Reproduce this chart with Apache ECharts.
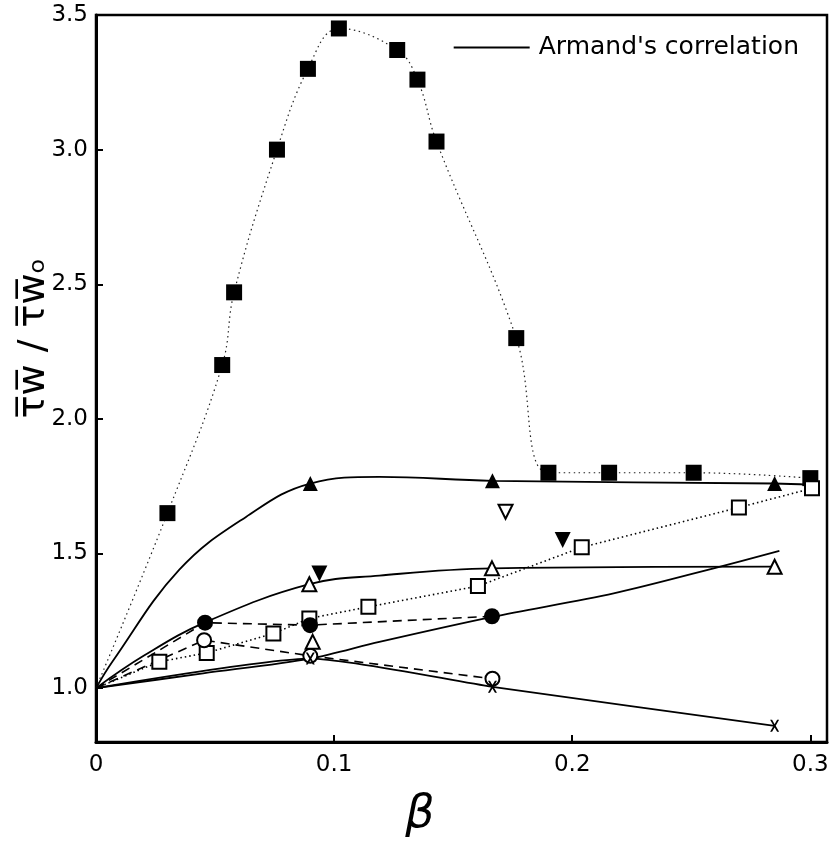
<!DOCTYPE html>
<html>
<head>
<meta charset="utf-8">
<script src="https://cdn.jsdelivr.net/npm/echarts@6/dist/echarts.min.js"></script>
<style>
  html, body { margin: 0; padding: 0; background: #fff; }
  #chart { width: 832px; height: 844px; }
</style>
</head>
<body>
<div id="chart"></div>
<script>
// Wall shear stress ratio against void fraction β for each data set.

// filled squares, dotted curve
const betaFilledSq = [0, 0.030, 0.053, 0.058, 0.076, 0.089, 0.102, 0.1265, 0.135, 0.143, 0.1765, 0.190, 0.2155, 0.251, 0.300];
const tauFilledSq  = [1.00, 1.65, 2.20, 2.47, 3.00, 3.30, 3.45, 3.37, 3.26, 3.03, 2.30, 1.80, 1.80, 1.80, 1.78];

// filled triangles: markers and the curve drawn through them
const betaFilledTri = [0.090, 0.1665, 0.285];
const tauFilledTri  = [1.76, 1.77, 1.76];
const betaFilledTriCurve = [0, 0.007, 0.035, 0.063, 0.090, 0.119, 0.1665, 0.285, 0.300];
const tauFilledTriCurve  = [1.00, 1.10, 1.44, 1.636, 1.76, 1.785, 1.77, 1.76, 1.755];

// open triangles: markers and curve
const betaOpenTri = [0.0896, 0.1663, 0.285];
const tauOpenTri  = [1.386, 1.445, 1.451];
const betaOpenTriCurve = [0, 0.020, 0.046, 0.0896, 0.119, 0.1663, 0.285];
const tauOpenTriCurve  = [1.00, 1.12, 1.245, 1.386, 1.418, 1.445, 1.451];

// open squares, dotted line
const betaOpenSq = [0, 0.0266, 0.0465, 0.0745, 0.0896, 0.1144, 0.1604, 0.204, 0.270, 0.3007];
const tauOpenSq  = [1.00, 1.098, 1.131, 1.203, 1.259, 1.302, 1.379, 1.523, 1.671, 1.742];

// filled circles, dashed line
const betaFilledCirc = [0, 0.0458, 0.0899, 0.1663];
const tauFilledCirc  = [1.00, 1.243, 1.234, 1.267];

// open circles, dashed line
const betaOpenCirc = [0, 0.0454, 0.090, 0.1665];
const tauOpenCirc  = [1.00, 1.178, 1.120, 1.035];

// crosses, solid line
const betaCross = [0, 0.090, 0.1665, 0.285];
const tauCross  = [1.00, 1.110, 1.005, 0.860];

// isolated points
const betaFilledInvTri = [0.0938, 0.196];
const tauFilledInvTri  = [1.426, 1.550];
const betaOpenInvTri = [0.172];
const tauOpenInvTri  = [1.655];
const betaLoneOpenTri = [0.091];
const tauLoneOpenTri  = [1.172];

// Armand's correlation
const betaArmand = [0, 0.045, 0.090, 0.119, 0.1665, 0.2174, 0.2594, 0.287];
const tauArmand  = [1.00, 1.055, 1.110, 1.172, 1.265, 1.352, 1.445, 1.510];

const xTicks = [0, 0.1, 0.2, 0.3];
const yTicks = [1.0, 1.5, 2.0, 2.5, 3.0, 3.5];

const zip = (xs, ys) => xs.map((x, i) => [x, ys[i]]);
// the shared origin point carries no marker
const noOriginMark = pts => pts.map((p, i) => i === 0 ? { value: p, symbol: 'none' } : p);

const INK = '#000';
const FONT = 'DejaVu Sans';

const filled = { color: INK, opacity: 1 };
const hollow = { color: '#fff', borderColor: INK, borderWidth: 2, opacity: 1 };
const crossPath = 'path://M0,0L2.2,0L5,3.6L7.8,0L10,0L6.2,5L10,10L7.8,10L5,6.4L2.2,10L0,10L3.8,5Z';

const chart = echarts.init(document.getElementById('chart'), null, { renderer: 'canvas' });

chart.setOption({
  animation: false,
  backgroundColor: '#fff',
  grid: {
    left: 96, right: 5, top: 15, bottom: 102,
    show: true, borderColor: INK, borderWidth: 2.5, backgroundColor: 'transparent'
  },
  legend: {
    data: [{ name: "Armand's correlation", icon: 'rect' }],
    right: 28, top: 30,
    itemWidth: 76, itemHeight: 2, itemGap: 10,
    itemStyle: { color: INK },
    textStyle: { fontFamily: FONT, fontSize: 25, color: INK, padding: [0, 0, 0, 4] }
  },
  xAxis: {
    type: 'value', min: 0, max: 0.307, interval: 0.1,
    axisLine: { lineStyle: { color: INK, width: 3 } },
    axisTick: { inside: true, length: 7, lineStyle: { color: INK, width: 2 } },
    splitLine: { show: false },
    axisLabel: {
      margin: 12, color: INK, fontFamily: FONT, fontSize: 23,
      showMaxLabel: false,
      formatter: v => {
        const t = xTicks.find(k => Math.abs(k - v) < 1e-6);
        return t === undefined ? '' : (t === 0 ? '0' : t.toFixed(1));
      }
    }
  },
  yAxis: {
    type: 'value', min: 0.8, max: 3.5, splitNumber: 5,
    axisLine: { lineStyle: { color: INK, width: 3 } },
    axisTick: { inside: true, length: 7, lineStyle: { color: INK, width: 2 } },
    splitLine: { show: false },
    axisLabel: {
      margin: 8, color: INK, fontFamily: FONT, fontSize: 23,
      formatter: v => {
        const t = yTicks.find(k => Math.abs(k - v) < 1e-6);
        return t === undefined ? '' : t.toFixed(1);
      }
    }
  },
  graphic: [
    {
      type: 'text', x: 34, y: 338, rotation: Math.PI / 2,
      style: {
        text: 'τ\u0305w\u0305 / τ\u0305w\u0305\u2092',
        font: '38px "DejaVu Sans"', fill: INK,
        textAlign: 'center', textVerticalAlign: 'middle'
      }
    },
    {
      type: 'text', x: 420, y: 815,
      style: {
        text: 'β', font: 'italic 46px "DejaVu Sans"', fill: INK,
        textAlign: 'center', textVerticalAlign: 'middle'
      }
    }
  ],
  series: [
    {
      name: "Armand's correlation", type: 'line', smooth: 0.3,
      symbol: 'none', z: 3,
      data: zip(betaArmand, tauArmand),
      lineStyle: { color: INK, width: 1.8 },
      itemStyle: { color: INK }
    },
    {
      name: 'filled squares', type: 'line', smooth: 0.4,
      symbol: 'rect', symbolSize: 16, z: 5,
      data: noOriginMark(zip(betaFilledSq, tauFilledSq)),
      lineStyle: { color: '#222', width: 1.2, type: [1.5, 3.5] },
      itemStyle: filled
    },
    {
      name: 'filled triangle curve', type: 'line', smooth: 0.4,
      symbol: 'none', z: 3,
      data: zip(betaFilledTriCurve, tauFilledTriCurve),
      lineStyle: { color: INK, width: 1.8 }
    },
    {
      name: 'filled triangles', type: 'scatter', symbol: 'triangle', symbolSize: 15, z: 6,
      data: zip(betaFilledTri, tauFilledTri), itemStyle: filled
    },
    {
      name: 'open triangle curve', type: 'line', smooth: 0.4,
      symbol: 'none', z: 3,
      data: zip(betaOpenTriCurve, tauOpenTriCurve),
      lineStyle: { color: INK, width: 1.8 }
    },
    {
      name: 'open triangles', type: 'scatter', symbol: 'triangle', symbolSize: 14, z: 6,
      data: zip(betaOpenTri, tauOpenTri).concat(zip(betaLoneOpenTri, tauLoneOpenTri)),
      itemStyle: hollow
    },
    {
      name: 'open squares', type: 'line',
      symbol: 'rect', symbolSize: 14, z: 5,
      data: noOriginMark(zip(betaOpenSq, tauOpenSq)),
      lineStyle: { color: INK, width: 1.6, type: [1.5, 3] },
      itemStyle: hollow
    },
    {
      name: 'filled circles', type: 'line',
      symbol: 'circle', symbolSize: 16, z: 5,
      data: noOriginMark(zip(betaFilledCirc, tauFilledCirc)),
      lineStyle: { color: INK, width: 1.6, type: [9, 6] },
      itemStyle: filled
    },
    {
      name: 'open circles', type: 'line',
      symbol: 'circle', symbolSize: 14, z: 5,
      data: noOriginMark(zip(betaOpenCirc, tauOpenCirc)),
      lineStyle: { color: INK, width: 1.6, type: [9, 6] },
      itemStyle: hollow
    },
    {
      name: 'crosses', type: 'line', smooth: 0.2,
      symbol: crossPath, symbolSize: [9, 12], z: 5,
      data: noOriginMark(zip(betaCross, tauCross)),
      lineStyle: { color: INK, width: 1.8 },
      itemStyle: filled
    },
    {
      name: 'filled inverted triangles', type: 'scatter', symbol: 'triangle', symbolRotate: 180,
      symbolSize: 16, z: 6,
      data: zip(betaFilledInvTri, tauFilledInvTri), itemStyle: filled
    },
    {
      name: 'open inverted triangles', type: 'scatter', symbol: 'triangle', symbolRotate: 180,
      symbolSize: 14, z: 6,
      data: zip(betaOpenInvTri, tauOpenInvTri), itemStyle: hollow
    }
  ]
});
</script>
</body>
</html>
